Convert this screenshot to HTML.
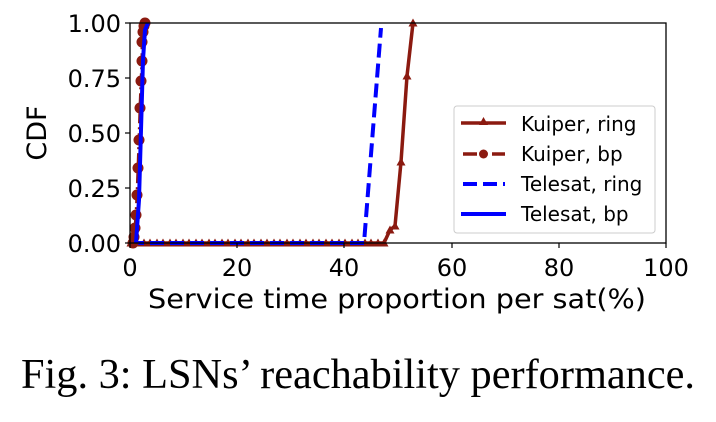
<!DOCTYPE html>
<html><head><meta charset="utf-8"><style>body{margin:0;background:#fff}svg{display:block}</style></head><body>
<svg width="716" height="422" xmlns="http://www.w3.org/2000/svg" font-family="DejaVu Sans, Liberation Sans, sans-serif">
<defs>
<clipPath id="c"><rect x="125" y="16" width="546" height="234"/></clipPath>
<marker id="tri" viewBox="-5 -5 10 10" markerWidth="10" markerHeight="10" markerUnits="userSpaceOnUse" refX="0" refY="0"><path d="M0,-4.5 L4.5,3.5 L-4.5,3.5 Z" fill="#8b1a10"/></marker>
<marker id="dot" viewBox="-5 -5 10 10" markerWidth="11" markerHeight="11" markerUnits="userSpaceOnUse" refX="0" refY="0"><circle r="5" fill="#8b1a10"/></marker>
</defs>
<g clip-path="url(#c)">
<polyline fill="none" stroke="#8b1a10" stroke-width="3.5" marker-start="url(#tri)" marker-mid="url(#tri)" marker-end="url(#tri)"
 points="131,243 137,243 144,243 150,243 157,243 163,243 170,243 176,243 183,243 189,243 196,243 202,243 209,243 215,243 222,243 228,243 235,243 241,243 248,243 254,243 261,243 267,243 274,243 280,243 287,243 293,243 300,243 306,243 313,243 319,243 326,243 332,243 339,243 345,243 352,243 358,243 365,243 371,243 378,243 384,243 390,230 395,226 401,162 407,76 413,23"/>
<polyline fill="none" stroke="#0000ff" stroke-width="4" stroke-dasharray="14,6" points="130,243 364,243 381,28"/>
<polyline fill="none" stroke="#8b1a10" stroke-width="3" stroke-dasharray="10,4,2,4" marker-start="url(#dot)" marker-mid="url(#dot)" marker-end="url(#dot)"
 points="133,243 134,237 135,228 136,215 137,195 138,168 139,140 140,108 141,81 142,61 142,42 143,32 144,26 145,23"/>
<polyline fill="none" stroke="#0000ff" stroke-width="4" points="136,243 139,200 141,130 143,60 145,30 148,23"/>
</g>
<rect x="130" y="23" width="536" height="220" fill="none" stroke="#000" stroke-width="1.3"/>
<g stroke="#000" stroke-width="1.2">
<line x1="130" y1="243" x2="130" y2="248"/><line x1="237" y1="243" x2="237" y2="248"/><line x1="344" y1="243" x2="344" y2="248"/><line x1="452" y1="243" x2="452" y2="248"/><line x1="559" y1="243" x2="559" y2="248"/><line x1="666" y1="243" x2="666" y2="248"/>
<line x1="125" y1="23" x2="130" y2="23"/><line x1="125" y1="78" x2="130" y2="78"/><line x1="125" y1="133" x2="130" y2="133"/><line x1="125" y1="188" x2="130" y2="188"/><line x1="125" y1="243" x2="130" y2="243"/>
</g>
<g font-size="24" fill="#000" text-anchor="middle">
<text x="130" y="276">0</text><text x="237" y="276">20</text><text x="344" y="276">40</text><text x="452" y="276">60</text><text x="559" y="276">80</text><text x="666" y="276">100</text>
</g>
<g font-size="24" fill="#000" text-anchor="end">
<text x="121" y="32">1.00</text><text x="121" y="87">0.75</text><text x="121" y="142">0.50</text><text x="121" y="197">0.25</text><text x="121" y="252">0.00</text>
</g>
<text x="397" y="308" font-size="27" text-anchor="middle" textLength="498" lengthAdjust="spacingAndGlyphs">Service time proportion per sat(%)</text>
<text transform="translate(46,133) rotate(-90)" font-size="27" text-anchor="middle">CDF</text>
<rect x="454" y="106" width="201" height="127" rx="3" fill="#fff" stroke="#ccc" stroke-width="1"/>
<line x1="461" y1="123" x2="506" y2="123" stroke="#8b1a10" stroke-width="3.5"/><path d="M483.5,117 L488,125 L479,125Z" fill="#8b1a10"/>
<line x1="463" y1="154" x2="505" y2="154" stroke="#8b1a10" stroke-width="3.5" stroke-dasharray="14,6,3,6"/><circle cx="483.5" cy="154" r="4.5" fill="#8b1a10"/>
<line x1="463" y1="184" x2="505" y2="184" stroke="#0000ff" stroke-width="4" stroke-dasharray="14,6"/>
<line x1="461" y1="214" x2="506" y2="214" stroke="#0000ff" stroke-width="4"/>
<g font-size="20" fill="#000">
<text x="521" y="131">Kuiper, ring</text><text x="521" y="161">Kuiper, bp</text><text x="521" y="191">Telesat, ring</text><text x="521" y="221">Telesat, bp</text>
</g>
<text x="358" y="388" font-size="42" font-family="Liberation Serif, serif" text-anchor="middle" textLength="674" lengthAdjust="spacingAndGlyphs">Fig. 3: LSNs’ reachability performance.</text>
</svg>
</body></html>
